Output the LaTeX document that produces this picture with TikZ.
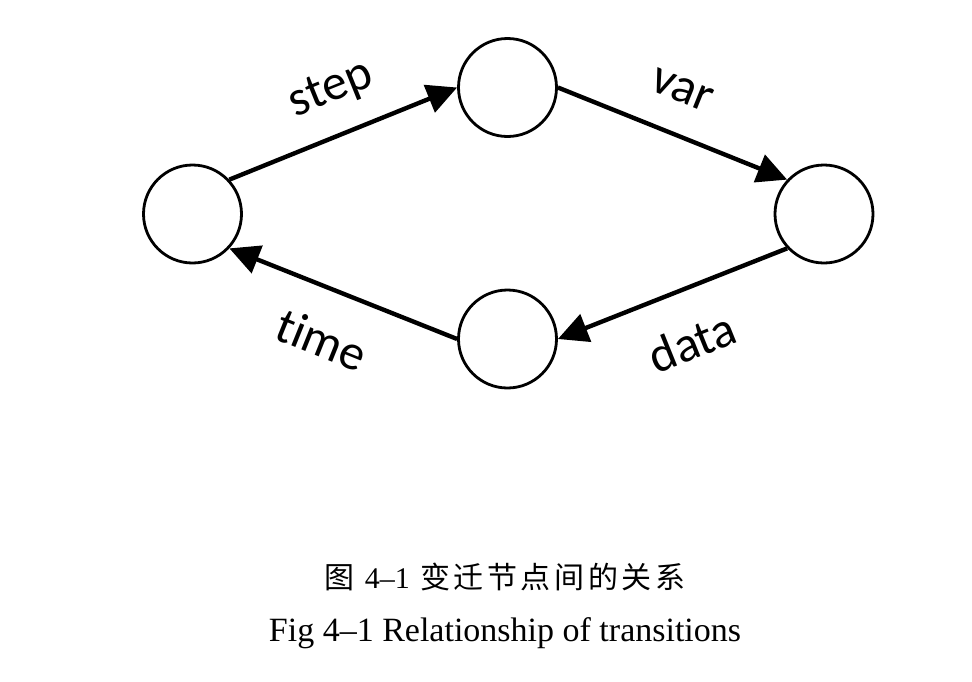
\documentclass[tikz,border=0pt]{standalone}
\usepackage{fontspec}
\setmainfont{Liberation Serif}
\newfontfamily\calfont[Ligatures=NoCommon]{Carlito}
\newfontfamily\cjkfont[LetterSpace=12]{Noto Sans CJK SC}
\usetikzlibrary{arrows.meta}
\newlength{\du}
\setlength{\du}{1pt}

\begin{document}
\begin{tikzpicture}[
  place/.style={circle,draw=dialinecolor,fill=white,line width=2.8\du,minimum size=98\du,inner sep=0pt},
  trans/.style={-{Triangle[length=30pt,width=29pt]},line width=4.4\du,draw=dialinecolor},
  lbl/.style={font=\calfont\fontsize{50}{54}\selectfont,inner sep=0pt}]
\pgftransformxscale{1.000000}
\pgftransformyscale{-1.000000}
\definecolor{dialinecolor}{rgb}{0.000000, 0.000000, 0.000000}
\useasboundingbox (0\du,0\du) rectangle (972\du,681\du);
% places
\node[place] (pleft) at (192.5\du,214\du) {};
\node[place] (ptop) at (507.5\du,87.5\du) {};
\node[place] (pright) at (824\du,214\du) {};
\node[place] (pbottom) at (507.5\du,339\du) {};
% transitions
\draw[trans] (pleft.43) -- (ptop.180);
\draw[trans] (ptop.0) -- (pright.137);
\draw[trans] (pright.223) -- (pbottom.0);
\draw[trans] (pbottom.180) -- (pleft.317);
% labels
\node[lbl,rotate=22] (lstep) at (331\du,90\du) {step};
\node[lbl,rotate=-22] (lvar) at (682\du,90\du) {var};
\node[lbl,rotate=22] (ldata) at (692\du,342\du) {data};
\node[lbl,rotate=-22] (ltime) at (322\du,340\du) {time};
% caption
\node[font=\cjkfont\fontsize{30}{34}\selectfont] (capcn) at (505\du,577\du) {图 {\rmfamily 4--1} 变迁节点间的关系};
\node[font=\fontsize{34}{38}\selectfont] (capen) at (505\du,633\du) {Fig 4--1 Relationship of transitions};
\end{tikzpicture}
\end{document}
